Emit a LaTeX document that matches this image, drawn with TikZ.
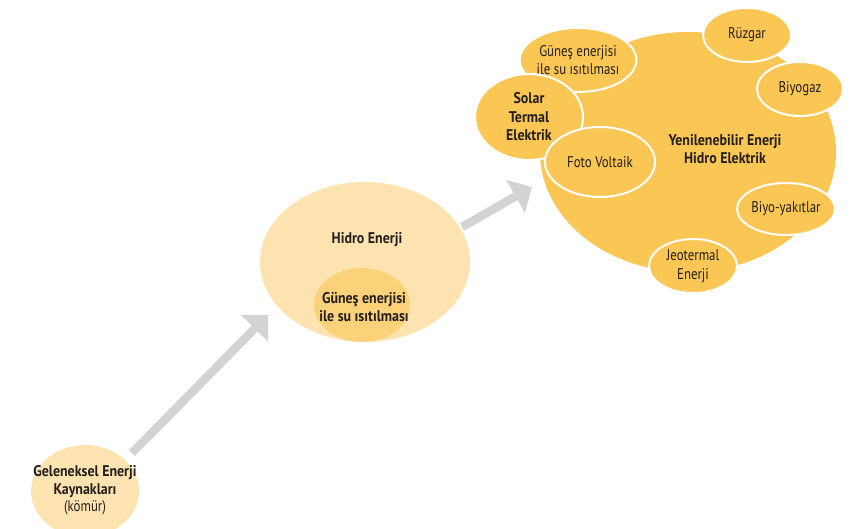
\documentclass[tikz,border=0pt]{standalone}
\usepackage{fontspec}
\setmainfont[UprightFeatures={FakeStretch=0.83},BoldFeatures={FakeStretch=0.9}]{PT Sans}
\usetikzlibrary{shapes.geometric,arrows.meta}
\definecolor{pale}{HTML}{FDE3B0}
\definecolor{midgold}{HTML}{FBD27A}
\definecolor{gold}{HTML}{FAC654}
\definecolor{arrowgray}{HTML}{D1D3D4}
\definecolor{ink}{HTML}{231F20}
\newcommand{\txtsize}{\fontsize{15.5}{18.5}\selectfont}
\begin{document}
\begin{tikzpicture}[x=1pt,y=-1pt,
  blob/.style={ellipse, inner sep=0pt, align=center, text=ink,
    font=\txtsize},
  bubble/.style={blob, fill=gold, draw=white, line width=2pt},
  label/.style={align=center, text=ink, inner sep=0pt, font=\txtsize},
  boldlabel/.style={label, font=\txtsize\bfseries},
  bigarrow/.style={draw=arrowgray, line width=8.5pt,
    -{Triangle[length=19pt,width=37pt]}, arrowgray}]
\useasboundingbox (0,0) rectangle (865,529);

% traditional sources
\node[blob, fill=pale, minimum width=108pt, minimum height=92pt] (coal) at (85,491) {};
\node[label] (coaltext) at (85,490)
  {\textbf{Geleneksel Enerji}\\\textbf{Kaynakları}\\[-2pt](kömür)};

% hydro stage
\node[blob, fill=pale, minimum width=210pt, minimum height=160pt] (hydro) at (365,262) {};
\node[boldlabel] (hydrotext) at (367,240) {Hidro Enerji};
\begin{scope}
  \clip (365,262) ellipse (105 and 80);
  \node[blob, fill=midgold, minimum width=96pt, minimum height=74pt] (solarwater) at (362,305) {};
\end{scope}
\node[boldlabel] (solarwatertext) at (364,307)
  {Güneş enerjisi\\ile su ısıtılması};

% renewable stage
\node[blob, fill=gold, minimum width=296pt, minimum height=240pt] (renew) at (688,152) {};
\node[boldlabel] (renewtext) at (725,149)
  {Yenilenebilir Enerji\\Hidro Elektrik};

\node[bubble, minimum width=106pt, minimum height=64pt] (sw) at (578,60)
  {Güneş enerjisi\\ile su ısıtılması};
\node[bubble, minimum width=108pt, minimum height=86pt, font=\txtsize\bfseries] (ste) at (529,117)
  {Solar\\Termal\\Elektrik};
\node[bubble, minimum width=110pt, minimum height=70pt] (pv) at (600,162) {Foto Voltaik};
\node[bubble, minimum width=88pt, minimum height=54pt] (wind) at (747,35) {Rüzgar};
\node[bubble, minimum width=86pt, minimum height=54pt] (biogas) at (800,89) {Biyogaz};
\node[bubble, minimum width=88pt, minimum height=52pt] (biofuel) at (786,209) {Biyo-yakıtlar};
\node[bubble, minimum width=88pt, minimum height=54pt] (geo) at (693,266) {Jeotermal\\Enerji};

% progression arrows
\coordinate (a1s) at (132,453);
\coordinate (a1e) at (268,315);
\coordinate (a2s) at (462,227);
\coordinate (a2e) at (532,187);
\draw[bigarrow] (a1s) -- (a1e);
\draw[bigarrow] (a2s) -- (a2e);
\end{tikzpicture}
\end{document}
